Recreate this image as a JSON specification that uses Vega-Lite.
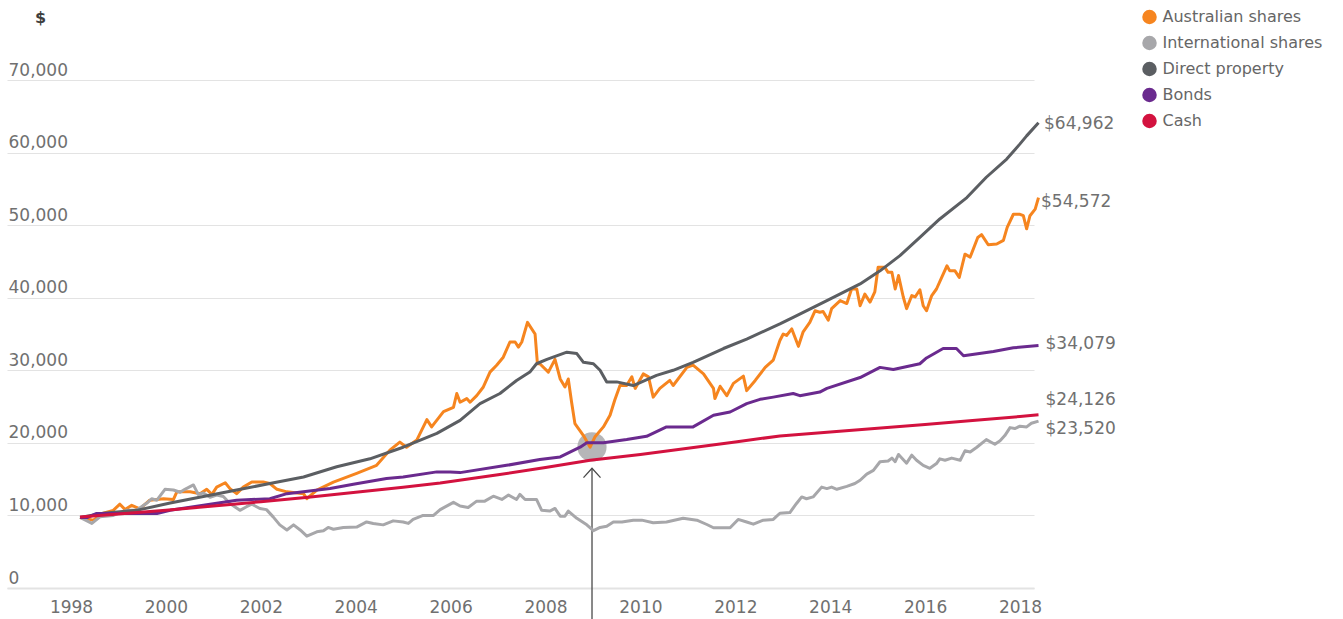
{
  "$schema": "https://vega.github.io/schema/vega-lite/v6.json",
  "width": 1027,
  "height": 508,
  "autosize": {"type": "none"},
  "padding": {"left": 7, "top": 80, "right": 309, "bottom": 31},
  "background": "white",
  "config": {"font": "DejaVu Sans", "view": {"stroke": null}},
  "datasets": {
    "series": [
      {"series": "Australian shares", "year": 1998.19, "value": 9720},
      {"series": "Australian shares", "year": 1998.47, "value": 9350},
      {"series": "Australian shares", "year": 1998.68, "value": 10300},
      {"series": "Australian shares", "year": 1998.89, "value": 10700},
      {"series": "Australian shares", "year": 1999.03, "value": 11550},
      {"series": "Australian shares", "year": 1999.14, "value": 10800},
      {"series": "Australian shares", "year": 1999.28, "value": 11400},
      {"series": "Australian shares", "year": 1999.45, "value": 10900},
      {"series": "Australian shares", "year": 1999.66, "value": 12100},
      {"series": "Australian shares", "year": 1999.95, "value": 12300},
      {"series": "Australian shares", "year": 2000.16, "value": 12200},
      {"series": "Australian shares", "year": 2000.23, "value": 13250},
      {"series": "Australian shares", "year": 2000.51, "value": 13250},
      {"series": "Australian shares", "year": 2000.72, "value": 13000},
      {"series": "Australian shares", "year": 2000.86, "value": 13600},
      {"series": "Australian shares", "year": 2000.97, "value": 12900},
      {"series": "Australian shares", "year": 2001.07, "value": 13900},
      {"series": "Australian shares", "year": 2001.25, "value": 14500},
      {"series": "Australian shares", "year": 2001.35, "value": 13700},
      {"series": "Australian shares", "year": 2001.49, "value": 13000},
      {"series": "Australian shares", "year": 2001.63, "value": 13900},
      {"series": "Australian shares", "year": 2001.81, "value": 14600},
      {"series": "Australian shares", "year": 2002.05, "value": 14600},
      {"series": "Australian shares", "year": 2002.19, "value": 14400},
      {"series": "Australian shares", "year": 2002.34, "value": 13600},
      {"series": "Australian shares", "year": 2002.55, "value": 13250},
      {"series": "Australian shares", "year": 2002.9, "value": 13000},
      {"series": "Australian shares", "year": 2002.97, "value": 12300},
      {"series": "Australian shares", "year": 2003.18, "value": 13500},
      {"series": "Australian shares", "year": 2003.53, "value": 14600},
      {"series": "Australian shares", "year": 2003.74, "value": 15100},
      {"series": "Australian shares", "year": 2004.02, "value": 15800},
      {"series": "Australian shares", "year": 2004.44, "value": 16900},
      {"series": "Australian shares", "year": 2004.72, "value": 19000},
      {"series": "Australian shares", "year": 2004.93, "value": 20100},
      {"series": "Australian shares", "year": 2005.07, "value": 19400},
      {"series": "Australian shares", "year": 2005.29, "value": 20400},
      {"series": "Australian shares", "year": 2005.5, "value": 23200},
      {"series": "Australian shares", "year": 2005.6, "value": 22200},
      {"series": "Australian shares", "year": 2005.85, "value": 24300},
      {"series": "Australian shares", "year": 2006.06, "value": 24900},
      {"series": "Australian shares", "year": 2006.13, "value": 26800},
      {"series": "Australian shares", "year": 2006.2, "value": 25600},
      {"series": "Australian shares", "year": 2006.34, "value": 26100},
      {"series": "Australian shares", "year": 2006.41, "value": 25600},
      {"series": "Australian shares", "year": 2006.55, "value": 26500},
      {"series": "Australian shares", "year": 2006.69, "value": 27700},
      {"series": "Australian shares", "year": 2006.83, "value": 29750},
      {"series": "Australian shares", "year": 2006.97, "value": 30700},
      {"series": "Australian shares", "year": 2007.11, "value": 31800},
      {"series": "Australian shares", "year": 2007.25, "value": 33900},
      {"series": "Australian shares", "year": 2007.36, "value": 33900},
      {"series": "Australian shares", "year": 2007.43, "value": 33200},
      {"series": "Australian shares", "year": 2007.5, "value": 33900},
      {"series": "Australian shares", "year": 2007.62, "value": 36600},
      {"series": "Australian shares", "year": 2007.78, "value": 35000},
      {"series": "Australian shares", "year": 2007.83, "value": 30900},
      {"series": "Australian shares", "year": 2007.88, "value": 30900},
      {"series": "Australian shares", "year": 2008.06, "value": 29750},
      {"series": "Australian shares", "year": 2008.2, "value": 31500},
      {"series": "Australian shares", "year": 2008.31, "value": 28800},
      {"series": "Australian shares", "year": 2008.41, "value": 27700},
      {"series": "Australian shares", "year": 2008.48, "value": 28800},
      {"series": "Australian shares", "year": 2008.55, "value": 25600},
      {"series": "Australian shares", "year": 2008.62, "value": 22650},
      {"series": "Australian shares", "year": 2008.8, "value": 21000},
      {"series": "Australian shares", "year": 2008.94, "value": 19400},
      {"series": "Australian shares", "year": 2009.04, "value": 20800},
      {"series": "Australian shares", "year": 2009.22, "value": 22200},
      {"series": "Australian shares", "year": 2009.36, "value": 23800},
      {"series": "Australian shares", "year": 2009.46, "value": 25900},
      {"series": "Australian shares", "year": 2009.57, "value": 27900},
      {"series": "Australian shares", "year": 2009.71, "value": 27900},
      {"series": "Australian shares", "year": 2009.82, "value": 29100},
      {"series": "Australian shares", "year": 2009.89, "value": 27500},
      {"series": "Australian shares", "year": 2010.06, "value": 29500},
      {"series": "Australian shares", "year": 2010.17, "value": 29100},
      {"series": "Australian shares", "year": 2010.27, "value": 26300},
      {"series": "Australian shares", "year": 2010.41, "value": 27500},
      {"series": "Australian shares", "year": 2010.62, "value": 28600},
      {"series": "Australian shares", "year": 2010.69, "value": 27900},
      {"series": "Australian shares", "year": 2010.98, "value": 30400},
      {"series": "Australian shares", "year": 2011.11, "value": 30700},
      {"series": "Australian shares", "year": 2011.33, "value": 29500},
      {"series": "Australian shares", "year": 2011.54, "value": 27500},
      {"series": "Australian shares", "year": 2011.57, "value": 26100},
      {"series": "Australian shares", "year": 2011.68, "value": 27800},
      {"series": "Australian shares", "year": 2011.82, "value": 26500},
      {"series": "Australian shares", "year": 2011.96, "value": 28200},
      {"series": "Australian shares", "year": 2012.17, "value": 29200},
      {"series": "Australian shares", "year": 2012.24, "value": 27200},
      {"series": "Australian shares", "year": 2012.42, "value": 28600},
      {"series": "Australian shares", "year": 2012.63, "value": 30400},
      {"series": "Australian shares", "year": 2012.8, "value": 31400},
      {"series": "Australian shares", "year": 2012.94, "value": 34100},
      {"series": "Australian shares", "year": 2013.01, "value": 35000},
      {"series": "Australian shares", "year": 2013.08, "value": 34800},
      {"series": "Australian shares", "year": 2013.19, "value": 35700},
      {"series": "Australian shares", "year": 2013.33, "value": 33300},
      {"series": "Australian shares", "year": 2013.43, "value": 35300},
      {"series": "Australian shares", "year": 2013.57, "value": 36600},
      {"series": "Australian shares", "year": 2013.68, "value": 38200},
      {"series": "Australian shares", "year": 2013.78, "value": 38000},
      {"series": "Australian shares", "year": 2013.85, "value": 38100},
      {"series": "Australian shares", "year": 2013.96, "value": 36900},
      {"series": "Australian shares", "year": 2014.03, "value": 38500},
      {"series": "Australian shares", "year": 2014.21, "value": 39600},
      {"series": "Australian shares", "year": 2014.35, "value": 39200},
      {"series": "Australian shares", "year": 2014.45, "value": 41200},
      {"series": "Australian shares", "year": 2014.56, "value": 41200},
      {"series": "Australian shares", "year": 2014.63, "value": 38900},
      {"series": "Australian shares", "year": 2014.73, "value": 40500},
      {"series": "Australian shares", "year": 2014.84, "value": 39400},
      {"series": "Australian shares", "year": 2014.94, "value": 40800},
      {"series": "Australian shares", "year": 2015.01, "value": 44200},
      {"series": "Australian shares", "year": 2015.15, "value": 44200},
      {"series": "Australian shares", "year": 2015.22, "value": 43500},
      {"series": "Australian shares", "year": 2015.3, "value": 43500},
      {"series": "Australian shares", "year": 2015.37, "value": 41200},
      {"series": "Australian shares", "year": 2015.44, "value": 43050},
      {"series": "Australian shares", "year": 2015.54, "value": 40100},
      {"series": "Australian shares", "year": 2015.61, "value": 38500},
      {"series": "Australian shares", "year": 2015.72, "value": 40300},
      {"series": "Australian shares", "year": 2015.79, "value": 40100},
      {"series": "Australian shares", "year": 2015.89, "value": 41100},
      {"series": "Australian shares", "year": 2015.96, "value": 38900},
      {"series": "Australian shares", "year": 2016.03, "value": 38200},
      {"series": "Australian shares", "year": 2016.14, "value": 40300},
      {"series": "Australian shares", "year": 2016.24, "value": 41200},
      {"series": "Australian shares", "year": 2016.35, "value": 42800},
      {"series": "Australian shares", "year": 2016.46, "value": 44400},
      {"series": "Australian shares", "year": 2016.52, "value": 43700},
      {"series": "Australian shares", "year": 2016.63, "value": 43700},
      {"series": "Australian shares", "year": 2016.72, "value": 42800},
      {"series": "Australian shares", "year": 2016.84, "value": 46000},
      {"series": "Australian shares", "year": 2016.95, "value": 45600},
      {"series": "Australian shares", "year": 2017.11, "value": 48300},
      {"series": "Australian shares", "year": 2017.19, "value": 48700},
      {"series": "Australian shares", "year": 2017.33, "value": 47300},
      {"series": "Australian shares", "year": 2017.51, "value": 47400},
      {"series": "Australian shares", "year": 2017.65, "value": 47900},
      {"series": "Australian shares", "year": 2017.73, "value": 49700},
      {"series": "Australian shares", "year": 2017.86, "value": 51500},
      {"series": "Australian shares", "year": 2018.0, "value": 51500},
      {"series": "Australian shares", "year": 2018.07, "value": 51300},
      {"series": "Australian shares", "year": 2018.14, "value": 49500},
      {"series": "Australian shares", "year": 2018.21, "value": 51300},
      {"series": "Australian shares", "year": 2018.32, "value": 52200},
      {"series": "Australian shares", "year": 2018.39, "value": 53800},

      {"series": "International shares", "year": 1998.19, "value": 9720},
      {"series": "International shares", "year": 1998.44, "value": 8900},
      {"series": "International shares", "year": 1998.61, "value": 9800},
      {"series": "International shares", "year": 1998.89, "value": 10000},
      {"series": "International shares", "year": 1999.17, "value": 10700},
      {"series": "International shares", "year": 1999.38, "value": 10700},
      {"series": "International shares", "year": 1999.6, "value": 11700},
      {"series": "International shares", "year": 1999.7, "value": 12300},
      {"series": "International shares", "year": 1999.81, "value": 12100},
      {"series": "International shares", "year": 1999.98, "value": 13600},
      {"series": "International shares", "year": 2000.16, "value": 13500},
      {"series": "International shares", "year": 2000.3, "value": 13200},
      {"series": "International shares", "year": 2000.4, "value": 13600},
      {"series": "International shares", "year": 2000.58, "value": 14200},
      {"series": "International shares", "year": 2000.68, "value": 12900},
      {"series": "International shares", "year": 2000.79, "value": 13100},
      {"series": "International shares", "year": 2000.93, "value": 12500},
      {"series": "International shares", "year": 2001.07, "value": 12800},
      {"series": "International shares", "year": 2001.21, "value": 12600},
      {"series": "International shares", "year": 2001.35, "value": 11650},
      {"series": "International shares", "year": 2001.56, "value": 10700},
      {"series": "International shares", "year": 2001.7, "value": 11200},
      {"series": "International shares", "year": 2001.81, "value": 11550},
      {"series": "International shares", "year": 2001.98, "value": 10960},
      {"series": "International shares", "year": 2002.12, "value": 10800},
      {"series": "International shares", "year": 2002.26, "value": 9800},
      {"series": "International shares", "year": 2002.4, "value": 8700},
      {"series": "International shares", "year": 2002.55, "value": 8000},
      {"series": "International shares", "year": 2002.69, "value": 8700},
      {"series": "International shares", "year": 2002.83, "value": 8000},
      {"series": "International shares", "year": 2002.97, "value": 7150},
      {"series": "International shares", "year": 2003.18, "value": 7750},
      {"series": "International shares", "year": 2003.32, "value": 7900},
      {"series": "International shares", "year": 2003.42, "value": 8350},
      {"series": "International shares", "year": 2003.53, "value": 8100},
      {"series": "International shares", "year": 2003.74, "value": 8350},
      {"series": "International shares", "year": 2004.02, "value": 8400},
      {"series": "International shares", "year": 2004.23, "value": 9100},
      {"series": "International shares", "year": 2004.37, "value": 8900},
      {"series": "International shares", "year": 2004.58, "value": 8700},
      {"series": "International shares", "year": 2004.79, "value": 9250},
      {"series": "International shares", "year": 2005.0, "value": 9100},
      {"series": "International shares", "year": 2005.11, "value": 8900},
      {"series": "International shares", "year": 2005.21, "value": 9450},
      {"series": "International shares", "year": 2005.42, "value": 10000},
      {"series": "International shares", "year": 2005.64, "value": 10000},
      {"series": "International shares", "year": 2005.78, "value": 10800},
      {"series": "International shares", "year": 2006.06, "value": 11800},
      {"series": "International shares", "year": 2006.2, "value": 11300},
      {"series": "International shares", "year": 2006.37, "value": 11100},
      {"series": "International shares", "year": 2006.55, "value": 11970},
      {"series": "International shares", "year": 2006.72, "value": 11970},
      {"series": "International shares", "year": 2006.9, "value": 12650},
      {"series": "International shares", "year": 2007.08, "value": 12200},
      {"series": "International shares", "year": 2007.22, "value": 12800},
      {"series": "International shares", "year": 2007.39, "value": 12200},
      {"series": "International shares", "year": 2007.46, "value": 12900},
      {"series": "International shares", "year": 2007.57, "value": 12200},
      {"series": "International shares", "year": 2007.81, "value": 12200},
      {"series": "International shares", "year": 2007.92, "value": 10700},
      {"series": "International shares", "year": 2008.09, "value": 10600},
      {"series": "International shares", "year": 2008.2, "value": 10960},
      {"series": "International shares", "year": 2008.31, "value": 9900},
      {"series": "International shares", "year": 2008.41, "value": 9900},
      {"series": "International shares", "year": 2008.48, "value": 10600},
      {"series": "International shares", "year": 2008.66, "value": 9600},
      {"series": "International shares", "year": 2008.87, "value": 8700},
      {"series": "International shares", "year": 2009.01, "value": 7900},
      {"series": "International shares", "year": 2009.15, "value": 8350},
      {"series": "International shares", "year": 2009.29, "value": 8500},
      {"series": "International shares", "year": 2009.43, "value": 9100},
      {"series": "International shares", "year": 2009.61, "value": 9100},
      {"series": "International shares", "year": 2009.85, "value": 9350},
      {"series": "International shares", "year": 2010.03, "value": 9350},
      {"series": "International shares", "year": 2010.27, "value": 9000},
      {"series": "International shares", "year": 2010.55, "value": 9100},
      {"series": "International shares", "year": 2010.9, "value": 9600},
      {"series": "International shares", "year": 2011.19, "value": 9350},
      {"series": "International shares", "year": 2011.4, "value": 8750},
      {"series": "International shares", "year": 2011.54, "value": 8300},
      {"series": "International shares", "year": 2011.89, "value": 8300},
      {"series": "International shares", "year": 2012.06, "value": 9450},
      {"series": "International shares", "year": 2012.24, "value": 9100},
      {"series": "International shares", "year": 2012.38, "value": 8800},
      {"series": "International shares", "year": 2012.59, "value": 9350},
      {"series": "International shares", "year": 2012.8, "value": 9450},
      {"series": "International shares", "year": 2012.94, "value": 10300},
      {"series": "International shares", "year": 2013.15, "value": 10400},
      {"series": "International shares", "year": 2013.29, "value": 11650},
      {"series": "International shares", "year": 2013.4, "value": 12550},
      {"series": "International shares", "year": 2013.5, "value": 12300},
      {"series": "International shares", "year": 2013.64, "value": 12550},
      {"series": "International shares", "year": 2013.82, "value": 13900},
      {"series": "International shares", "year": 2013.93, "value": 13700},
      {"series": "International shares", "year": 2014.03, "value": 13900},
      {"series": "International shares", "year": 2014.14, "value": 13600},
      {"series": "International shares", "year": 2014.35, "value": 14000},
      {"series": "International shares", "year": 2014.52, "value": 14400},
      {"series": "International shares", "year": 2014.63, "value": 14850},
      {"series": "International shares", "year": 2014.77, "value": 15700},
      {"series": "International shares", "year": 2014.91, "value": 16200},
      {"series": "International shares", "year": 2015.05, "value": 17400},
      {"series": "International shares", "year": 2015.22, "value": 17500},
      {"series": "International shares", "year": 2015.3, "value": 17900},
      {"series": "International shares", "year": 2015.37, "value": 17400},
      {"series": "International shares", "year": 2015.44, "value": 18400},
      {"series": "International shares", "year": 2015.61, "value": 17200},
      {"series": "International shares", "year": 2015.72, "value": 18300},
      {"series": "International shares", "year": 2015.82, "value": 17600},
      {"series": "International shares", "year": 2015.96, "value": 16900},
      {"series": "International shares", "year": 2016.1, "value": 16500},
      {"series": "International shares", "year": 2016.24, "value": 17150},
      {"series": "International shares", "year": 2016.31, "value": 17800},
      {"series": "International shares", "year": 2016.42, "value": 17600},
      {"series": "International shares", "year": 2016.56, "value": 17900},
      {"series": "International shares", "year": 2016.74, "value": 17600},
      {"series": "International shares", "year": 2016.84, "value": 18900},
      {"series": "International shares", "year": 2016.95, "value": 18750},
      {"series": "International shares", "year": 2017.09, "value": 19400},
      {"series": "International shares", "year": 2017.29, "value": 20450},
      {"series": "International shares", "year": 2017.47, "value": 19800},
      {"series": "International shares", "year": 2017.58, "value": 20300},
      {"series": "International shares", "year": 2017.68, "value": 21000},
      {"series": "International shares", "year": 2017.79, "value": 22100},
      {"series": "International shares", "year": 2017.89, "value": 21970},
      {"series": "International shares", "year": 2018.0, "value": 22300},
      {"series": "International shares", "year": 2018.14, "value": 22200},
      {"series": "International shares", "year": 2018.24, "value": 22700},
      {"series": "International shares", "year": 2018.39, "value": 23000},

      {"series": "Direct property", "year": 1998.19, "value": 9720},
      {"series": "Direct property", "year": 1998.68, "value": 10300},
      {"series": "Direct property", "year": 1999.38, "value": 10700},
      {"series": "Direct property", "year": 2000.09, "value": 11700},
      {"series": "Direct property", "year": 2000.79, "value": 12600},
      {"series": "Direct property", "year": 2001.49, "value": 13500},
      {"series": "Direct property", "year": 2002.19, "value": 14400},
      {"series": "Direct property", "year": 2002.9, "value": 15300},
      {"series": "Direct property", "year": 2003.6, "value": 16700},
      {"series": "Direct property", "year": 2004.3, "value": 17800},
      {"series": "Direct property", "year": 2005.0, "value": 19400},
      {"series": "Direct property", "year": 2005.71, "value": 21300},
      {"series": "Direct property", "year": 2006.2, "value": 23100},
      {"series": "Direct property", "year": 2006.62, "value": 25400},
      {"series": "Direct property", "year": 2007.04, "value": 26800},
      {"series": "Direct property", "year": 2007.39, "value": 28600},
      {"series": "Direct property", "year": 2007.67, "value": 29750},
      {"series": "Direct property", "year": 2007.81, "value": 30900},
      {"series": "Direct property", "year": 2008.03, "value": 31500},
      {"series": "Direct property", "year": 2008.45, "value": 32500},
      {"series": "Direct property", "year": 2008.66, "value": 32300},
      {"series": "Direct property", "year": 2008.8, "value": 31100},
      {"series": "Direct property", "year": 2009.01, "value": 30900},
      {"series": "Direct property", "year": 2009.15, "value": 30000},
      {"series": "Direct property", "year": 2009.29, "value": 28400},
      {"series": "Direct property", "year": 2009.5, "value": 28400},
      {"series": "Direct property", "year": 2009.85, "value": 27900},
      {"series": "Direct property", "year": 2010.34, "value": 29300},
      {"series": "Direct property", "year": 2010.69, "value": 30000},
      {"series": "Direct property", "year": 2011.11, "value": 31100},
      {"series": "Direct property", "year": 2011.75, "value": 33000},
      {"series": "Direct property", "year": 2012.24, "value": 34300},
      {"series": "Direct property", "year": 2012.94, "value": 36400},
      {"series": "Direct property", "year": 2013.22, "value": 37300},
      {"series": "Direct property", "year": 2013.93, "value": 39600},
      {"series": "Direct property", "year": 2014.63, "value": 41900},
      {"series": "Direct property", "year": 2015.05, "value": 43700},
      {"series": "Direct property", "year": 2015.47, "value": 45800},
      {"series": "Direct property", "year": 2015.89, "value": 48300},
      {"series": "Direct property", "year": 2016.31, "value": 50850},
      {"series": "Direct property", "year": 2016.88, "value": 53800},
      {"series": "Direct property", "year": 2017.29, "value": 56600},
      {"series": "Direct property", "year": 2017.72, "value": 59100},
      {"series": "Direct property", "year": 2018.0, "value": 61200},
      {"series": "Direct property", "year": 2018.14, "value": 62300},
      {"series": "Direct property", "year": 2018.39, "value": 64100},

      {"series": "Bonds", "year": 1998.19, "value": 9720},
      {"series": "Bonds", "year": 1998.35, "value": 9720},
      {"series": "Bonds", "year": 1998.54, "value": 10270},
      {"series": "Bonds", "year": 1999.81, "value": 10270},
      {"series": "Bonds", "year": 2000.09, "value": 10700},
      {"series": "Bonds", "year": 2000.79, "value": 11400},
      {"series": "Bonds", "year": 2001.49, "value": 12100},
      {"series": "Bonds", "year": 2002.19, "value": 12300},
      {"series": "Bonds", "year": 2002.55, "value": 13000},
      {"series": "Bonds", "year": 2003.46, "value": 13700},
      {"series": "Bonds", "year": 2003.95, "value": 14300},
      {"series": "Bonds", "year": 2004.65, "value": 15100},
      {"series": "Bonds", "year": 2005.0, "value": 15300},
      {"series": "Bonds", "year": 2005.71, "value": 16000},
      {"series": "Bonds", "year": 2005.99, "value": 16000},
      {"series": "Bonds", "year": 2006.2, "value": 15900},
      {"series": "Bonds", "year": 2007.18, "value": 16900},
      {"series": "Bonds", "year": 2007.88, "value": 17700},
      {"series": "Bonds", "year": 2008.31, "value": 18060},
      {"series": "Bonds", "year": 2008.73, "value": 19400},
      {"series": "Bonds", "year": 2008.87, "value": 20000},
      {"series": "Bonds", "year": 2009.22, "value": 20000},
      {"series": "Bonds", "year": 2009.71, "value": 20450},
      {"series": "Bonds", "year": 2010.13, "value": 20900},
      {"series": "Bonds", "year": 2010.55, "value": 22200},
      {"series": "Bonds", "year": 2011.11, "value": 22200},
      {"series": "Bonds", "year": 2011.54, "value": 23800},
      {"series": "Bonds", "year": 2011.89, "value": 24250},
      {"series": "Bonds", "year": 2012.24, "value": 25400},
      {"series": "Bonds", "year": 2012.52, "value": 26000},
      {"series": "Bonds", "year": 2012.8, "value": 26300},
      {"series": "Bonds", "year": 2013.22, "value": 26800},
      {"series": "Bonds", "year": 2013.36, "value": 26500},
      {"series": "Bonds", "year": 2013.78, "value": 27000},
      {"series": "Bonds", "year": 2013.93, "value": 27500},
      {"series": "Bonds", "year": 2014.63, "value": 29000},
      {"series": "Bonds", "year": 2015.05, "value": 30400},
      {"series": "Bonds", "year": 2015.33, "value": 30100},
      {"series": "Bonds", "year": 2015.89, "value": 30900},
      {"series": "Bonds", "year": 2016.03, "value": 31700},
      {"series": "Bonds", "year": 2016.38, "value": 33000},
      {"series": "Bonds", "year": 2016.66, "value": 33000},
      {"series": "Bonds", "year": 2016.81, "value": 32000},
      {"series": "Bonds", "year": 2017.44, "value": 32600},
      {"series": "Bonds", "year": 2017.86, "value": 33100},
      {"series": "Bonds", "year": 2018.39, "value": 33400},

      {"series": "Cash", "year": 1998.19, "value": 9770},
      {"series": "Cash", "year": 1999.0, "value": 10200},
      {"series": "Cash", "year": 2000.0, "value": 10720},
      {"series": "Cash", "year": 2001.0, "value": 11290},
      {"series": "Cash", "year": 2002.0, "value": 11890},
      {"series": "Cash", "year": 2003.0, "value": 12520},
      {"series": "Cash", "year": 2004.0, "value": 13180},
      {"series": "Cash", "year": 2005.0, "value": 13880},
      {"series": "Cash", "year": 2005.78, "value": 14480},
      {"series": "Cash", "year": 2007.0, "value": 15600},
      {"series": "Cash", "year": 2008.0, "value": 16610},
      {"series": "Cash", "year": 2008.94, "value": 17600},
      {"series": "Cash", "year": 2010.0, "value": 18400},
      {"series": "Cash", "year": 2011.0, "value": 19250},
      {"series": "Cash", "year": 2012.0, "value": 20120},
      {"series": "Cash", "year": 2012.94, "value": 20950},
      {"series": "Cash", "year": 2014.0, "value": 21500},
      {"series": "Cash", "year": 2015.0, "value": 22000},
      {"series": "Cash", "year": 2016.0, "value": 22530},
      {"series": "Cash", "year": 2017.0, "value": 23080},
      {"series": "Cash", "year": 2018.0, "value": 23630},
      {"series": "Cash", "year": 2018.39, "value": 23860}
    ],
    "labels": [
      {"series": "Direct property", "year": 2018.39, "value": 64962, "label": "$64,962"},
      {"series": "Australian shares", "year": 2018.39, "value": 54572, "label": "$54,572"},
      {"series": "Bonds", "year": 2018.39, "value": 34079, "label": "$34,079"},
      {"series": "Cash", "year": 2018.39, "value": 24126, "label": "$24,126"},
      {"series": "International shares", "year": 2018.39, "value": 23520, "label": "$23,520"}
    ],
    "note": [
      {"event": "Global financial crisis", "year": 2008.98, "value": 19440}
    ]
  },
  "encoding": {
    "x": {
      "field": "year",
      "type": "quantitative",
      "scale": {"domain": [1996.651, 2018.295], "nice": false, "zero": false},
      "axis": {
        "title": null,
        "values": [1998, 2000, 2002, 2004, 2006, 2008, 2010, 2012, 2014, 2016, 2018],
        "format": "d",
        "grid": false,
        "ticks": false,
        "tickSize": 0,
        "domain": true,
        "domainColor": "#e3e3e3",
        "domainWidth": 2,
        "labelPadding": 24,
        "labelBaseline": "alphabetic",
        "labelFont": "DejaVu Sans",
        "labelFontSize": 17,
        "labelColor": "#707070",
        "labelFlush": false,
        "labelOverlap": false,
        "labelBound": false
      }
    },
    "y": {
      "field": "value",
      "type": "quantitative",
      "scale": {"domain": [0, 70000], "nice": false},
      "axis": {
        "title": "$",
        "titleAngle": 0,
        "titleX": 33,
        "titleY": -63,
        "titleAlign": "center",
        "titleBaseline": "middle",
        "titleFont": "DejaVu Sans",
        "titleFontSize": 16,
        "titleFontWeight": "bold",
        "titleColor": "#3d3d3d",
        "values": [0, 10000, 20000, 30000, 40000, 50000, 60000, 70000],
        "format": ",d",
        "domain": false,
        "ticks": false,
        "tickSize": 0,
        "grid": true,
        "gridColor": "#e3e3e3",
        "gridWidth": 1,
        "labelAlign": "left",
        "labelBaseline": "alphabetic",
        "labelPadding": -1,
        "labelOffset": -5,
        "labelFont": "DejaVu Sans",
        "labelFontSize": 17,
        "labelColor": "#707070",
        "labelFlush": false,
        "labelOverlap": false,
        "labelBound": false
      }
    }
  },
  "layer": [
    {
      "data": {"name": "note"},
      "mark": {"type": "point", "shape": "circle", "filled": true, "size": 850, "color": "#a9a9ac", "opacity": 0.85}
    },
    {
      "data": {"name": "note"},
      "mark": {"type": "rule", "color": "#4a4a4a", "strokeWidth": 1.3},
      "encoding": {"y": {"datum": 16500}, "y2": {"datum": -4300}}
    },
    {
      "data": {"name": "note"},
      "mark": {"type": "point", "shape": "M-1,1.1L0,0L1,1.1", "filled": false, "size": 290, "stroke": "#4a4a4a", "strokeWidth": 1.3, "opacity": 1},
      "encoding": {"y": {"datum": 16500}}
    },
    {
      "data": {"name": "series"},
      "mark": {"type": "line", "strokeWidth": 3, "strokeJoin": "round"},
      "encoding": {
        "color": {
          "field": "series",
          "type": "nominal",
          "scale": {
            "domain": ["Australian shares", "International shares", "Direct property", "Bonds", "Cash"],
            "range": ["#f6851f", "#a7a7aa", "#5b5e62", "#6a2a8e", "#d3123f"]
          },
          "legend": {
            "orient": "none",
            "legendX": 1134.5,
            "legendY": -71,
            "title": null,
            "padding": 0,
            "symbolType": "circle",
            "symbolSize": 210,
            "symbolStrokeWidth": 0,
            "symbolOpacity": 1,
            "labelFont": "DejaVu Sans",
            "labelFontSize": 16,
            "labelColor": "#666666",
            "labelOffset": 5,
            "rowPadding": 10,
            "encode": {
              "symbols": {
                "update": {
                  "fill": {"scale": "color", "field": "value"},
                  "stroke": {"value": "transparent"},
                  "opacity": {"value": 1}
                }
              }
            }
          }
        }
      }
    },
    {
      "data": {"name": "labels"},
      "transform": [{"filter": "datum.series === 'Direct property'"}],
      "mark": {"type": "text", "align": "left", "baseline": "middle", "dx": 5.5, "dy": 7, "fontSize": 17, "font": "DejaVu Sans", "color": "#707070"},
      "encoding": {"text": {"field": "label"}}
    },
    {
      "data": {"name": "labels"},
      "transform": [{"filter": "datum.series === 'Australian shares'"}],
      "mark": {"type": "text", "align": "left", "baseline": "middle", "dx": 2.5, "dy": 10, "fontSize": 17, "font": "DejaVu Sans", "color": "#707070"},
      "encoding": {"text": {"field": "label"}}
    },
    {
      "data": {"name": "labels"},
      "transform": [{"filter": "datum.series === 'Bonds'"}],
      "mark": {"type": "text", "align": "left", "baseline": "middle", "dx": 7, "dy": 3, "fontSize": 17, "font": "DejaVu Sans", "color": "#707070"},
      "encoding": {"text": {"field": "label"}}
    },
    {
      "data": {"name": "labels"},
      "transform": [{"filter": "datum.series === 'Cash'"}],
      "mark": {"type": "text", "align": "left", "baseline": "middle", "dx": 7, "dy": -12.6, "fontSize": 17, "font": "DejaVu Sans", "color": "#707070"},
      "encoding": {"text": {"field": "label"}}
    },
    {
      "data": {"name": "labels"},
      "transform": [{"filter": "datum.series === 'International shares'"}],
      "mark": {"type": "text", "align": "left", "baseline": "middle", "dx": 7, "dy": 11.3, "fontSize": 17, "font": "DejaVu Sans", "color": "#707070"},
      "encoding": {"text": {"field": "label"}}
    }
  ]
}
